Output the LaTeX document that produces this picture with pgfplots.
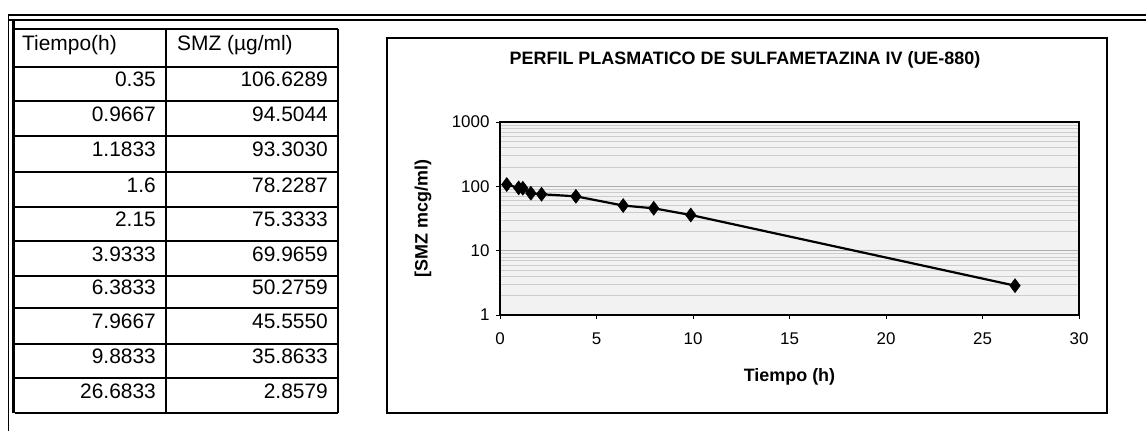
\documentclass[border=0pt]{standalone}
\usepackage{pgfplots}
\pgfplotsset{compat=1.18}
\usepackage{fontspec}
\setmainfont{Liberation Sans}
\begin{document}
\begin{tikzpicture}[x=1bp,y=1bp]
\useasboundingbox (0,0) rectangle (1146,431);
% outer frame
\draw[line width=1.5bp] (8,416) -- (1146,416);
\draw[line width=1.5bp] (8,411) -- (1146,411);
\draw[line width=0.8bp] (8,416) -- (8,0);
\draw[line width=3bp] (13.5,411) -- (13.5,18);
% table grid
\foreach \yy in {29,67,101,136,172,207,241,276,308,344,378,413}
  \draw[line width=1.3bp] (15,{431-\yy}) -- (338,{431-\yy});
\draw[line width=1.3bp] (166,402) -- (166,18);
\draw[line width=1.3bp] (338,402) -- (338,18);
% table text
\begin{scope}[every node/.style={font=\fontsize{21}{24}\selectfont, inner sep=0pt}]
\node[anchor=mid west] at (22,383) {Tiempo(h)};
\node[anchor=mid west] at (177,383) {SMZ (µg/ml)};
\node[anchor=mid east] at (156,347) {0.35};     \node[anchor=mid east] at (328,347) {106.6289};
\node[anchor=mid east] at (156,312.5) {0.9667}; \node[anchor=mid east] at (328,312.5) {94.5044};
\node[anchor=mid east] at (156,277) {1.1833};   \node[anchor=mid east] at (328,277) {93.3030};
\node[anchor=mid east] at (156,241.5) {1.6};    \node[anchor=mid east] at (328,241.5) {78.2287};
\node[anchor=mid east] at (156,207) {2.15};     \node[anchor=mid east] at (328,207) {75.3333};
\node[anchor=mid east] at (156,172.5) {3.9333}; \node[anchor=mid east] at (328,172.5) {69.9659};
\node[anchor=mid east] at (156,139) {6.3833};   \node[anchor=mid east] at (328,139) {50.2759};
\node[anchor=mid east] at (156,105) {7.9667};   \node[anchor=mid east] at (328,105) {45.5550};
\node[anchor=mid east] at (156,70) {9.8833};    \node[anchor=mid east] at (328,70) {35.8633};
\node[anchor=mid east] at (156,35.5) {26.6833}; \node[anchor=mid east] at (328,35.5) {2.8579};
\end{scope}
% chart box
\draw[line width=1.3bp] (387,393) rectangle (1107,18);
\node[font=\fontsize{18}{21}\selectfont\bfseries, inner sep=0pt] at (745,371) {PERFIL PLASMATICO DE SULFAMETAZINA IV (UE-880)};
\begin{axis}[
  at={(500bp,116bp)}, anchor=south west,
  width=579bp, height=193bp, scale only axis,
  xmin=0, xmax=30, ymin=1, ymax=1000, ymode=log,
  xtick={0,5,10,15,20,25,30},
  ytick={1,10,100,1000}, yticklabels={1,10,100,1000},
  xtick pos=bottom, ytick pos=left,
  tick align=outside, major tick length=4bp,
  minor tick length=0pt,
  /pgf/number format/assume math mode=true,
  tick label style={font=\fontsize{17}{20}\selectfont},
  xticklabel style={yshift=-10bp},
  yticklabel style={xshift=-3bp},
  axis line style={line width=1.1bp},
  every tick/.style={black, line width=0.8bp},
  axis background/.style={fill=black!5},
  yminorgrids, ymajorgrids,
  minor grid style={black!20, line width=0.5bp},
  major grid style={black!32, line width=0.6bp},
  xlabel={Tiempo (h)},
  ylabel={[SMZ mcg/ml)},
  label style={font=\fontsize{18}{21}\selectfont\bfseries},
  xlabel style={at={(axis description cs:0.5,-0.321)}, anchor=center},
  ylabel style={at={(axis description cs:-0.133,0.5)}, anchor=center},
]
\addplot[black, line width=2.2bp, mark=diamond*, mark size=7bp,
  mark options={fill=black, line width=0.5bp}] coordinates {
  (0.35,106.6289) (0.9667,94.5044) (1.1833,93.3030) (1.6,78.2287)
  (2.15,75.3333) (3.9333,69.9659) (6.3833,50.2759) (7.9667,45.5550)
  (9.8833,35.8633) (26.6833,2.8579)
};
\end{axis}
\end{tikzpicture}
\end{document}
